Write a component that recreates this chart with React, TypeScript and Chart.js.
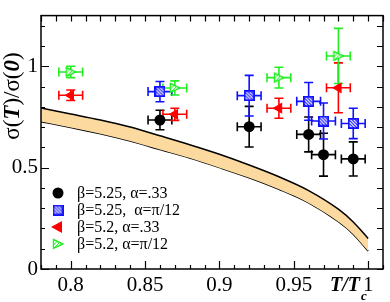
import React, { useEffect, useRef } from "react";
import { Chart, registerables } from "chart.js";
Chart.register(...registerables);

const SERIF = '"Liberation Serif", "DejaVu Serif", serif';

// Band (theory curve) upper and lower edges
const bandX = [0.78, 0.8, 0.82, 0.84, 0.86, 0.88, 0.9, 0.92, 0.94, 0.96, 0.98, 0.99, 1.0];
const bandUpper = [0.794, 0.765, 0.735, 0.7, 0.657, 0.613, 0.566, 0.513, 0.455, 0.387, 0.295, 0.232, 0.151];
const bandLower = [0.727, 0.698, 0.667, 0.631, 0.589, 0.547, 0.5, 0.45, 0.393, 0.326, 0.233, 0.172, 0.089];

// beta=5.25, alpha=.33 (black circles)
const blackX = [0.86, 0.92, 0.96, 0.97, 0.99];
const blackY = [0.735, 0.702, 0.664, 0.564, 0.543];
const blackYErr = [0.048, 0.1, 0.086, 0.106, 0.084];
// beta=5.25, alpha=pi/12 (blue squares)
const blueX = [0.86, 0.92, 0.96, 0.97, 0.99];
const blueY = [0.875, 0.855, 0.827, 0.73, 0.718];
const blueYErr = [0.05, 0.1, 0.093, 0.089, 0.075];
// beta=5.2, alpha=.33 (red left triangles)
const redX = [0.8, 0.87, 0.94, 0.98];
const redY = [0.857, 0.763, 0.793, 0.894];
const redYErr = [0.026, 0.03, 0.049, 0.123];
// beta=5.2, alpha=pi/12 (green right triangles)
const greenX = [0.8, 0.87, 0.94, 0.98];
const greenY = [0.972, 0.893, 0.944, 1.051];
const greenYErr = [0.028, 0.035, 0.051, 0.136];
const xErr = 0.008;

const legendLabels = ["β=5.25, α=.33", "β=5.25,  α=π/12", "β=5.2, α=.33", "β=5.2, α=π/12"];
const xTickLabels = [0.8, 0.85, 0.9, 0.95, 1];
const yTickLabels = [0, 0.5, 1];

const BLUE = "#1010ff";
const RED = "#ff0000";
const GREEN = "#22ee22";

function makeSquareImg(): HTMLCanvasElement {
  const c = document.createElement("canvas");
  c.width = 11; c.height = 11;
  const g = c.getContext("2d")!;
  g.fillStyle = BLUE;
  g.fillRect(0, 0, 11, 11);
  g.save();
  g.beginPath(); g.rect(1.5, 1.5, 8, 8); g.clip();
  g.strokeStyle = "#ffffff";
  g.lineWidth = 1.2;
  for (let i = -12; i < 14; i += 3.2) {
    g.beginPath(); g.moveTo(i, 0); g.lineTo(i + 11, 11); g.stroke();
  }
  g.restore();
  g.strokeStyle = BLUE; g.lineWidth = 1.5;
  g.strokeRect(0.75, 0.75, 9.5, 9.5);
  return c;
}

function makeTriRightImg(): HTMLCanvasElement {
  const c = document.createElement("canvas");
  c.width = 12; c.height = 12;
  const g = c.getContext("2d")!;
  const path = () => { g.beginPath(); g.moveTo(1.5, 1.5); g.lineTo(11, 6); g.lineTo(1.5, 10.5); g.closePath(); };
  path();
  g.fillStyle = "#ffffff"; g.fill();
  g.save(); g.clip();
  g.strokeStyle = GREEN; g.lineWidth = 1;
  for (let i = -14; i < 14; i += 3.5) {
    g.beginPath(); g.moveTo(i, 12); g.lineTo(i + 12, 0); g.stroke();
  }
  g.restore();
  path();
  g.strokeStyle = GREEN; g.lineWidth = 1.4; g.stroke();
  return c;
}

const BAND_FILL = "#fcd99f";

const fmt = (v: number) => String(Number(Number(v).toFixed(2)));

const errorBarPlugin = {
  id: "errorBars",
  beforeDatasetsDraw(chart: any) {
    const ctx = chart.ctx;
    const xs = chart.scales.x, ys = chart.scales.y;
    chart.data.datasets.forEach((ds: any) => {
      if (!ds.yErr) return;
      ctx.save();
      ctx.strokeStyle = ds.errColor;
      ctx.lineWidth = 1.6;
      const cap = 4.5;
      ds.data.forEach((p: any, i: number) => {
        const px = xs.getPixelForValue(p.x), py = ys.getPixelForValue(p.y);
        const xl = xs.getPixelForValue(p.x - ds.xErr), xr = xs.getPixelForValue(p.x + ds.xErr);
        const yt = ys.getPixelForValue(p.y + ds.yErr[i]), yb = ys.getPixelForValue(p.y - ds.yErr[i]);
        ctx.beginPath();
        ctx.moveTo(xl, py); ctx.lineTo(xr, py);
        ctx.moveTo(xl, py - cap); ctx.lineTo(xl, py + cap);
        ctx.moveTo(xr, py - cap); ctx.lineTo(xr, py + cap);
        ctx.moveTo(px, yt); ctx.lineTo(px, yb);
        ctx.moveTo(px - cap, yt); ctx.lineTo(px + cap, yt);
        ctx.moveTo(px - cap, yb); ctx.lineTo(px + cap, yb);
        ctx.stroke();
      });
      ctx.restore();
    });
  },
};

function makeDecorPlugin(squareImg: HTMLCanvasElement, triImg: HTMLCanvasElement) {
  return {
    id: "decor",
    afterDraw(chart: any) {
      const ctx = chart.ctx;
      const a = chart.chartArea;
      const xs = chart.scales.x, ys = chart.scales.y;
      ctx.save();
      // frame
      ctx.strokeStyle = "#000"; ctx.lineWidth = 1.5;
      ctx.strokeRect(a.left, a.top, a.right - a.left, a.bottom - a.top);
      // ticks
      ctx.lineWidth = 1.2;
      ctx.beginPath();
      for (let k = 78; k <= 101; k++) {
        const v = k / 100;
        const px = Math.round(xs.getPixelForValue(v)) + 0.5;
        const major = k % 5 === 0;
        const len = major ? 8 : 4;
        ctx.moveTo(px, a.bottom); ctx.lineTo(px, a.bottom - len);
        ctx.moveTo(px, a.top); ctx.lineTo(px, a.top + 6);
      }
      for (let k = 0; k <= 12; k++) {
        const v = k / 10;
        const py = Math.round(ys.getPixelForValue(v)) + 0.5;
        const major = k % 5 === 0;
        const len = major ? 8 : 4;
        ctx.moveTo(a.left, py); ctx.lineTo(a.left + len, py);
        ctx.moveTo(a.right, py); ctx.lineTo(a.right - 6, py);
      }
      ctx.stroke();

      // legend
      const lx = 58, ly0 = 193, dy = 17;
      ctx.fillStyle = "#000";
      ctx.beginPath(); ctx.arc(lx, ly0, 5.5, 0, Math.PI * 2); ctx.fill();
      ctx.drawImage(squareImg, lx - 5.5, ly0 + dy - 5.5);
      ctx.fillStyle = RED;
      ctx.beginPath();
      ctx.moveTo(lx - 7, ly0 + 2 * dy);
      ctx.lineTo(lx + 4, ly0 + 2 * dy - 6);
      ctx.lineTo(lx + 4, ly0 + 2 * dy + 6);
      ctx.closePath(); ctx.fill();
      ctx.drawImage(triImg, lx - 6, ly0 + 3 * dy - 6);
      ctx.fillStyle = "#000";
      ctx.font = `16px ${SERIF}`;
      ctx.textBaseline = "middle";
      ctx.textAlign = "left";
      legendLabels.forEach((t, i) => ctx.fillText(t, 77, ly0 + i * dy + 1));

      // x title T/Tc
      ctx.textBaseline = "alphabetic";
      ctx.font = `bold italic 20px ${SERIF}`;
      ctx.fillText("T/T", 330, 291);
      ctx.font = `bold italic 13px ${SERIF}`;
      ctx.fillText("c", 361, 300);

      // y title σ(T)/σ(0)
      ctx.translate(19, 96);
      ctx.rotate(-Math.PI / 2);
      const reg = `23px ${SERIF}`, bi = `bold italic 23px ${SERIF}`;
      const parts: [string, string][] = [["σ(", reg], ["T", bi], [")/σ(", reg], ["0", bi], [")", reg]];
      let total = 0;
      parts.forEach(([t, f]) => { ctx.font = f; total += ctx.measureText(t).width; });
      let x = -total / 2;
      parts.forEach(([t, f]) => { ctx.font = f; ctx.fillText(t, x, 0); x += ctx.measureText(t).width; });
      ctx.restore();
    },
  };
}

export default function App() {
  const ref = useRef<HTMLCanvasElement | null>(null);
  useEffect(() => {
    if (!ref.current) return;
    const squareImg = makeSquareImg();
    const triImg = makeTriRightImg();
    const toPts = (xs: number[], ys: number[]) => xs.map((x, i) => ({ x, y: ys[i] }));
    const chart = new Chart(ref.current, {
      type: "scatter",
      data: {
        datasets: [
          {
            type: "line",
            data: toPts(bandX, bandUpper),
            borderColor: "#000",
            borderWidth: 1.5,
            pointRadius: 0,
            cubicInterpolationMode: "monotone",
            fill: "+1",
            backgroundColor: BAND_FILL,
            order: 10,
          } as any,
          {
            type: "line",
            data: toPts(bandX, bandLower),
            borderColor: "#000",
            borderWidth: 1.5,
            pointRadius: 0,
            cubicInterpolationMode: "monotone",
            fill: false,
            order: 10,
          } as any,
          {
            data: toPts(blackX, blackY),
            yErr: blackYErr, xErr, errColor: "#000",
            pointStyle: "circle", pointRadius: 5.5,
            backgroundColor: "#000", borderColor: "#000", borderWidth: 0,
            order: 1,
          } as any,
          {
            data: toPts(blueX, blueY),
            yErr: blueYErr, xErr, errColor: BLUE,
            pointStyle: squareImg, pointRadius: 5.5,
            order: 1,
          } as any,
          {
            data: toPts(redX, redY),
            yErr: redYErr, xErr, errColor: RED,
            pointStyle: "triangle", rotation: -90, pointRadius: 6.5,
            backgroundColor: RED, borderColor: RED, borderWidth: 0,
            order: 1,
          } as any,
          {
            data: toPts(greenX, greenY),
            yErr: greenYErr, xErr, errColor: GREEN,
            pointStyle: triImg, pointRadius: 6,
            order: 1,
          } as any,
        ],
      },
      options: {
        animation: false,
        responsive: false,
        devicePixelRatio: 1,
        layout: { padding: { top: 2, right: 2, left: 0, bottom: 0 } },
        plugins: { legend: { display: false }, tooltip: { enabled: false } },
        scales: {
          x: {
            type: "linear",
            min: 0.78,
            max: 1.01,
            grid: { display: false, drawTicks: false },
            border: { display: false },
            afterBuildTicks: (s: any) => { s.ticks = xTickLabels.map((v) => ({ value: v })); },
            ticks: {
              color: "#000",
              font: { family: SERIF, size: 21 },
              padding: 4,
              maxRotation: 0,
              autoSkip: false,
              callback: (v: any) => fmt(v),
            },
            afterFit: (s: any) => { s.height = 33; },
          },
          y: {
            type: "linear",
            min: 0,
            max: 1.25,
            grid: { display: false, drawTicks: false },
            border: { display: false },
            afterBuildTicks: (s: any) => { s.ticks = yTickLabels.map((v) => ({ value: v })); },
            ticks: {
              color: "#000",
              font: { family: SERIF, size: 21 },
              padding: 3,
              autoSkip: false,
              callback: (v: any) => fmt(v),
            },
            afterFit: (s: any) => { s.width = 41; },
          },
        },
      },
      plugins: [errorBarPlugin, makeDecorPlugin(squareImg, triImg)],
    } as any);
    return () => chart.destroy();
  }, []);
  return (
    <div style={{ position: "fixed", left: 0, top: 0, width: 390, height: 302, background: "#fff" }}>
      <canvas ref={ref} width={390} height={302} style={{ display: "block" }} />
    </div>
  );
}
